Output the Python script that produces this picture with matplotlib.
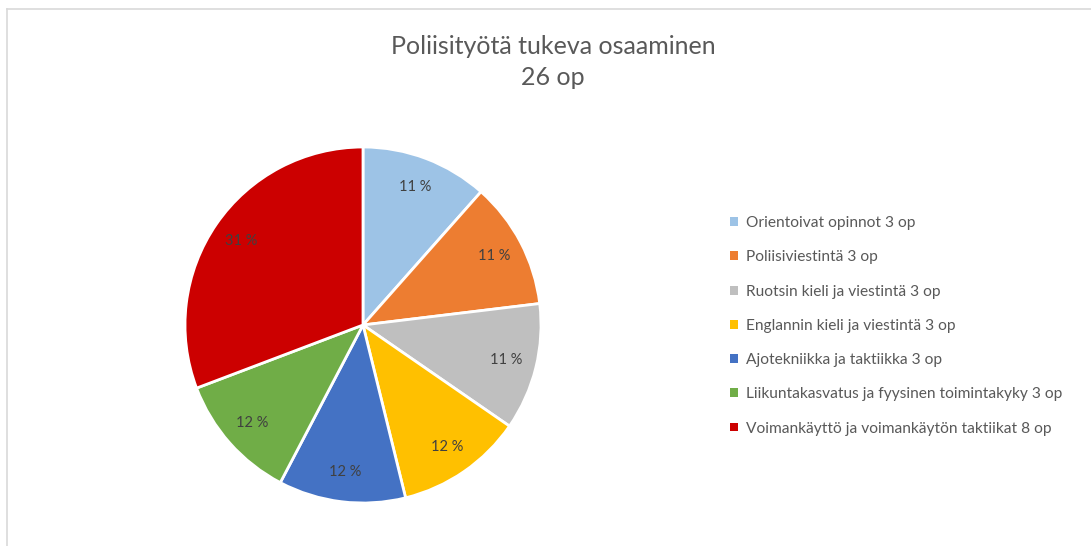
import math

import matplotlib
matplotlib.use("Agg")
import matplotlib.pyplot as plt
from matplotlib.lines import Line2D
from matplotlib.patches import Patch

otsikko = "Poliisityötä tukeva osaaminen\n26 op"
kurssit = [
    "Orientoivat opinnot 3 op",
    "Poliisiviestintä 3 op",
    "Ruotsin kieli ja viestintä 3 op",
    "Englannin kieli ja viestintä 3 op",
    "Ajotekniikka ja taktiikka 3 op",
    "Liikuntakasvatus ja fyysinen toimintakyky 3 op",
    "Voimankäyttö ja voimankäytön taktiikat 8 op",
]
opintopisteet = [3, 3, 3, 3, 3, 3, 8]
prosentit = ["11 %", "11 %", "11 %", "12 %", "12 %", "12 %", "31 %"]
varit = ["#9DC3E6", "#ED7D31", "#BFBFBF", "#FFC000", "#4472C4", "#70AD47", "#CC0000"]

plt.rcParams["font.family"] = ["Lato", "DejaVu Sans"]

W, H = 1091, 546
fig = plt.figure(figsize=(W / 100, H / 100), dpi=100)

# kehys (vain ylä- ja vasen reuna näkyvät)
fig.add_artist(Line2D([7 / W, 7 / W], [0, 1 - 9 / H], color="#D9D9D9", lw=1.2))
fig.add_artist(Line2D([7 / W, 1], [1 - 9 / H, 1 - 9 / H], color="#D9D9D9", lw=1.2))

cx, cy, r = 363, 325, 178
ax = fig.add_axes([(cx - r) / W, (H - cy - r) / H, 2 * r / W, 2 * r / H])
ax.pie(
    opintopisteet,
    colors=varit,
    startangle=90,
    counterclock=False,
    radius=1,
    wedgeprops=dict(edgecolor="white", linewidth=2),
)
kulma = 90.0
yht = sum(opintopisteet)
for arvo, teksti in zip(opintopisteet, prosentit):
    laaja = 360 * arvo / yht
    keski = math.radians(kulma - laaja / 2)
    ax.text(0.83 * math.cos(keski), 0.83 * math.sin(keski), teksti,
            ha="center", va="center", fontsize=10.5, color="#404040")
    kulma -= laaja
ax.set_xlim(-1, 1)
ax.set_ylim(-1, 1)
ax.set_aspect("equal")
ax.axis("off")

fig.text(553 / W, 1 - 62 / H, otsikko, ha="center", va="center",
         fontsize=18, color="#595959", linespacing=1.45)

kahvat = [Patch(facecolor=v, edgecolor="none") for v in varit]
fig.legend(kahvat, kurssit, loc="upper left", bbox_to_anchor=(724 / W, 1 - 210 / H),
           frameon=False, fontsize=11.2, labelcolor="#595959",
           handlelength=0.5, handleheight=0.5, handletextpad=0.5,
           labelspacing=1.3, borderaxespad=0)

fig.savefig("out.png", dpi=100)
